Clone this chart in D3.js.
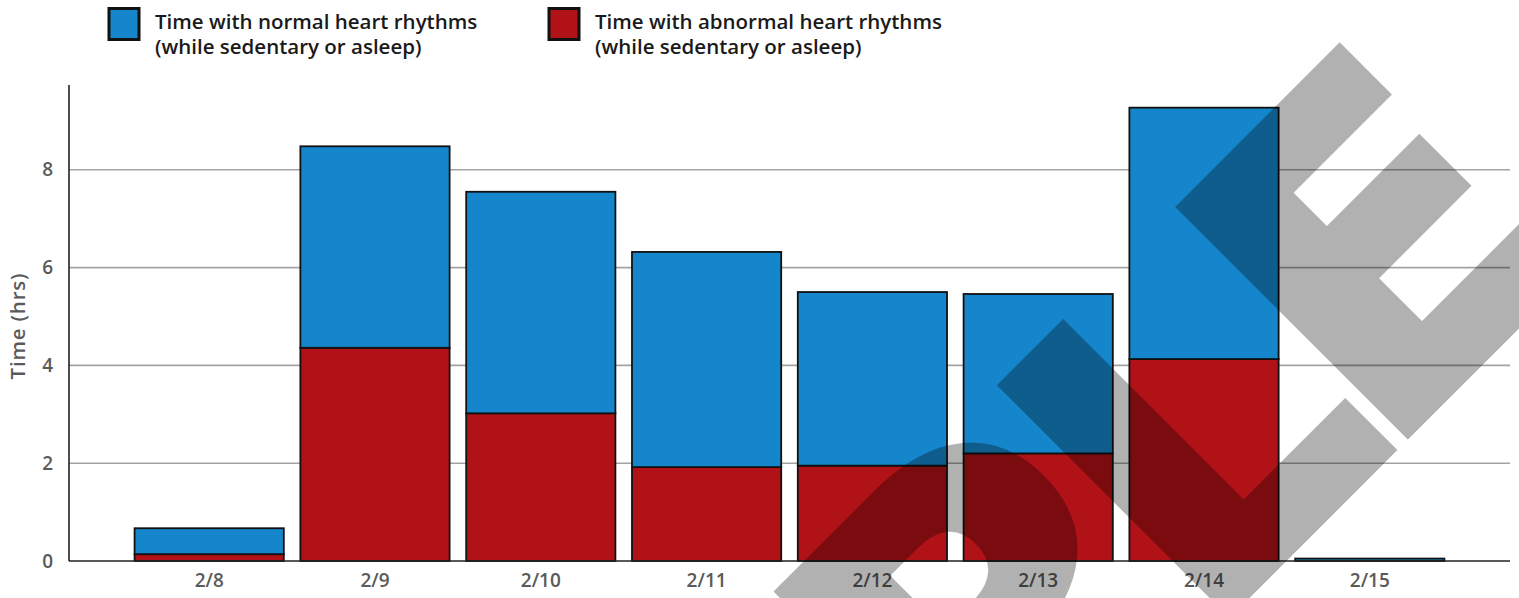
<!DOCTYPE html>
<html>
<head>
<meta charset="utf-8">
<script src="https://cdn.jsdelivr.net/npm/d3@7"></script>
<style>
  body { margin: 0; background: #fff; }
  svg { display: block; }
</style>
</head>
<body>
<svg id="chart" width="1519" height="598"></svg>
<script>
// Daily rhythm totals (hours)
const days = ["2/8", "2/9", "2/10", "2/11", "2/12", "2/13", "2/14", "2/15"];
const abnormalHours = [0.14, 4.36, 3.02, 1.92, 1.95, 2.20, 4.13, 0.00];
const normalHours   = [0.53, 4.12, 4.53, 4.40, 3.55, 3.26, 5.14, 0.05];
const yTicks = [0, 2, 4, 6, 8];

const seriesKeys = ["abnormal", "normal"];
const seriesLabels = {
  normal:   ["Time with normal heart rhythms", "(while sedentary or asleep)"],
  abnormal: ["Time with abnormal heart rhythms", "(while sedentary or asleep)"]
};
const seriesColors = { normal: "#1586cb", abnormal: "#b01218" };
const legendOrder = ["normal", "abnormal"];
const yAxisTitle = "Time (hrs)";
const watermarkText = "SAMPLE";

const rows = days.map((day, i) => ({ day, abnormal: abnormalHours[i], normal: normalHours[i] }));
const totals = rows.map(r => r.abnormal + r.normal);

const svg = d3.select("#chart");
const fontFamily = "'Open Sans', Lato, sans-serif";

const plot = { left: 69, right: 1510, top: 85, bottom: 561 };

const x = d3.scaleBand()
  .domain(days)
  .range([118, 1461])
  .paddingInner(0.1)
  .paddingOuter(0.1);

const y = d3.scaleLinear()
  .domain([0, d3.max(totals) * 1.05])
  .range([plot.bottom, plot.top]);

// horizontal gridlines
svg.append("g")
  .selectAll("line")
  .data(yTicks.filter(t => t > 0))
  .join("line")
  .attr("x1", plot.left).attr("x2", plot.right)
  .attr("y1", d => y(d)).attr("y2", d => y(d))
  .attr("stroke", "#a3a3a3")
  .attr("stroke-width", 1.6);

// stacked bars
const stacked = d3.stack().keys(seriesKeys)(rows);
svg.append("g")
  .selectAll("g")
  .data(stacked)
  .join("g")
  .attr("fill", s => seriesColors[s.key])
  .selectAll("rect")
  .data(s => s)
  .join("rect")
  .attr("x", d => x(d.data.day))
  .attr("width", x.bandwidth())
  .attr("y", d => y(d[1]))
  .attr("height", d => Math.max(0, y(d[0]) - y(d[1])))
  .attr("stroke", "#111")
  .attr("stroke-width", 1.8);

// axes
const labelStyle = (sel, size) => sel
  .attr("font-family", fontFamily)
  .attr("font-weight", 600)
  .attr("font-size", size)
  .attr("fill", "#5a5a5a");

const yAxis = svg.append("g")
  .attr("transform", `translate(${plot.left},0)`)
  .call(d3.axisLeft(y).tickValues(yTicks).tickSize(0).tickPadding(16).tickFormat(d3.format("d")));
yAxis.select(".domain").remove();
yAxis.selectAll("text").call(labelStyle, 19);

const xAxis = svg.append("g")
  .attr("transform", `translate(0,${plot.bottom})`)
  .call(d3.axisBottom(x).tickSize(0).tickPadding(13));
xAxis.select(".domain").remove();
xAxis.selectAll("text").call(labelStyle, 19);

svg.append("line")
  .attr("x1", plot.left).attr("x2", plot.left)
  .attr("y1", plot.top).attr("y2", plot.bottom)
  .attr("stroke", "#222").attr("stroke-width", 1.6);
svg.append("line")
  .attr("x1", plot.left).attr("x2", plot.right)
  .attr("y1", plot.bottom).attr("y2", plot.bottom)
  .attr("stroke", "#222").attr("stroke-width", 1.6);

svg.append("text")
  .attr("transform", `translate(25,${(plot.top + plot.bottom) / 2 + 3}) rotate(-90)`)
  .attr("text-anchor", "middle")
  .attr("letter-spacing", 0.8)
  .call(labelStyle, 20.5)
  .text(yAxisTitle);

// legend
const legendX = { normal: 108, abnormal: 548 };
const legend = svg.append("g");
legendOrder.forEach(key => {
  const g = legend.append("g").attr("transform", `translate(${legendX[key]},0)`);
  g.append("rect")
    .attr("x", 1).attr("y", 8.5)
    .attr("width", 30).attr("height", 31)
    .attr("fill", seriesColors[key])
    .attr("stroke", "#111")
    .attr("stroke-width", 3);
  const t = g.append("text")
    .attr("font-family", fontFamily)
    .attr("font-weight", 600)
    .attr("font-size", 20.5)
    .attr("fill", "#1a1a1a");
  seriesLabels[key].forEach((line, i) => {
    t.append("tspan").attr("x", 47).attr("y", 28.5 + i * 25).text(line);
  });
});

// diagonal watermark
const fontSize = 435;
const wm = svg.append("g")
  .attr("opacity", 0.3)
  .attr("transform", "translate(1229,610) rotate(-45)");
const wmText = wm.append("text")
  .attr("font-family", "'DejaVu Sans', sans-serif")
  .attr("font-weight", 700)
  .attr("font-size", fontSize)
  .attr("letter-spacing", -25)
  .attr("dx", "0 0 0 -10 10 0")
  .attr("dy", "0 0 0 -12 12 0")
  .attr("fill", "#000")
  .attr("stroke", "#000")
  .attr("stroke-width", 12)
  .attr("stroke-linejoin", "miter")
  .attr("x", 0).attr("y", 0)
  .text(watermarkText);
const lPos = wmText.node().getStartPositionOfChar(watermarkText.indexOf("L"));
wmText.attr("x", -lPos.x - fontSize * 0.09);
</script>
</body>
</html>
